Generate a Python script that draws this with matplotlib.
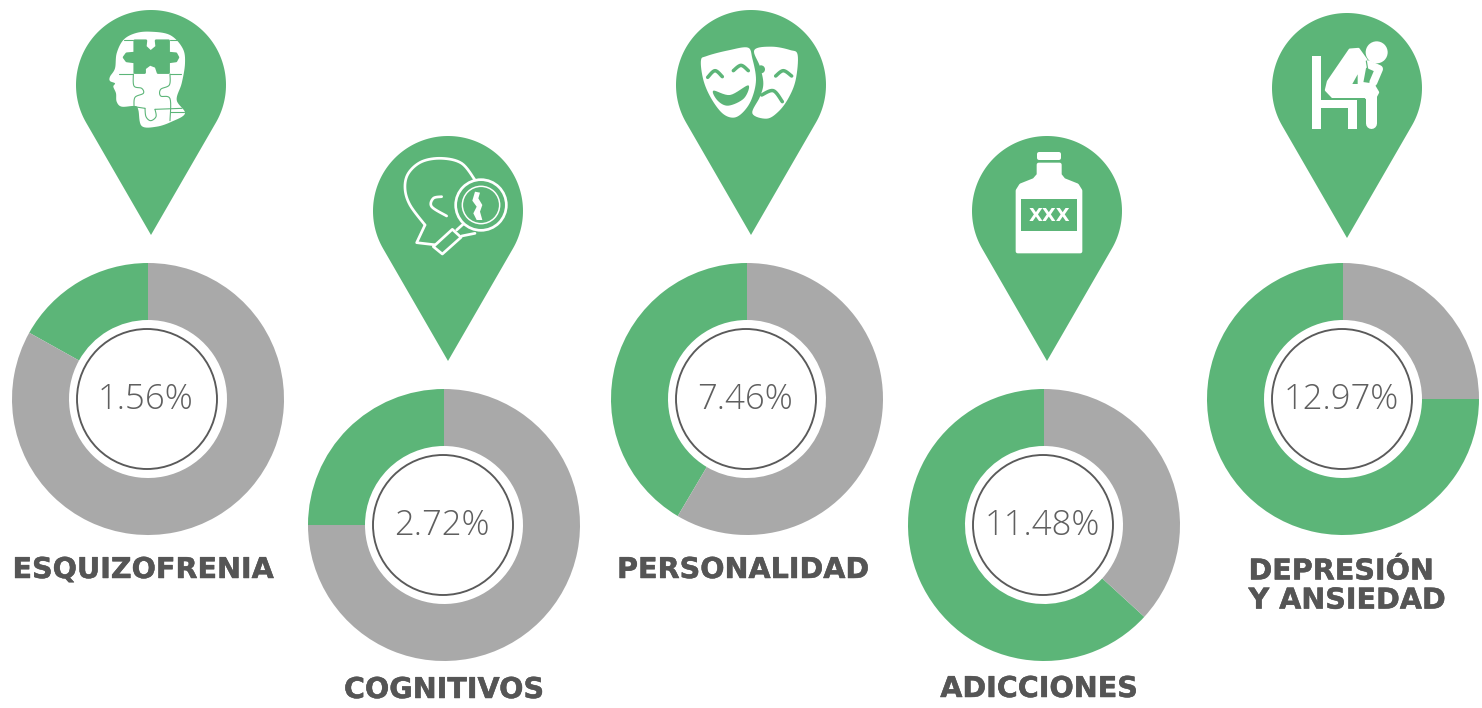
import numpy as np
import matplotlib
matplotlib.use("Agg")
import matplotlib.pyplot as plt
import matplotlib.patheffects as pe
from matplotlib.patches import Polygon, Circle

categories = ["ESQUIZOFRENIA", "COGNITIVOS", "PERSONALIDAD", "ADICCIONES", "DEPRESIÓN\nY ANSIEDAD"]
percent_labels = ["1.56%", "2.72%", "7.46%", "11.48%", "12.97%"]
green_share = [0.169, 0.25, 0.415, 0.632, 0.75]
grey_share = [0.831, 0.75, 0.585, 0.368, 0.25]

donut_x = [148, 444, 747, 1044, 1343]
donut_y = [399, 525, 399, 525, 399]
pin_x = [151, 448, 751, 1047, 1347]
pin_top = [10, 136, 10, 136, 13]
label_x = [143, 444, 743, 1039, 1347]
label_y = [570, 690, 570, 689, 586]

GREEN = "#5CB578"
GREY = "#A9A9A9"
TEXT = "#555555"
W, H = 1482, 708
PX = 0.72

fig = plt.figure(figsize=(W / 100, H / 100), dpi=100, facecolor="white")
ax = fig.add_axes([0, 0, 1, 1])


def Y(y):
    return H - np.asarray(y, dtype=float)


def smooth(pts, closed=True, n=8):
    p = np.asarray(pts, dtype=float)
    if closed:
        q = np.vstack([p[-1], p, p[0], p[1]])
    else:
        q = np.vstack([p[0], p, p[-1]])
    out = []
    for i in range(1, len(q) - 2):
        for t in np.linspace(0, 1, n, endpoint=False):
            a, b, c, d = q[i - 1], q[i], q[i + 1], q[i + 2]
            out.append(0.5 * (2 * b + (c - a) * t + (2 * a - 5 * b + 4 * c - d) * t ** 2
                              + (3 * b - a - 3 * c + d) * t ** 3))
    if not closed:
        out.append(q[-2])
    return np.array(out)


def tr(pts, o):
    p = np.asarray(pts, dtype=float)
    return np.column_stack([o[0] + p[:, 0] / 3, Y(o[1] + p[:, 1] / 3)])


def fill(pts, o, color="white", sm=True, z=5, ec="none", lw=0):
    p = smooth(pts) if sm else pts
    ax.add_patch(Polygon(tr(p, o), closed=True, fc=color, ec=ec, lw=lw * PX, zorder=z, joinstyle="round"))


def line(pts, o, color="white", lw=2, sm=True, z=6):
    p = smooth(pts, closed=False) if sm else np.asarray(pts, float)
    q = tr(p, o)
    ax.plot(q[:, 0], q[:, 1], color=color, lw=lw * PX, solid_capstyle="round", solid_joinstyle="round", zorder=z)


def circ(c, r, o, fc="none", ec="none", lw=0, z=6):
    q = tr([c], o)[0]
    ax.add_patch(Circle(q, r / 3, fc=fc, ec=ec, lw=lw * PX, zorder=z))


def pin(cx, top):
    r = 75
    cy = top + r
    a = np.radians(np.linspace(-30, 210, 120))
    xs = np.append(cx + r * np.cos(a), cx)
    ys = np.append(cy - r * np.sin(a), cy + 2 * r)
    ax.add_patch(Polygon(np.column_stack([xs, Y(ys)]), closed=True, fc=GREEN, ec="none", zorder=3))


# donuts
for i, cat in enumerate(categories):
    ax.pie([green_share[i], grey_share[i]], colors=[GREEN, GREY], startangle=90, counterclock=True,
           center=(donut_x[i], H - donut_y[i]), radius=136,
           wedgeprops=dict(width=136 - 79, linewidth=0))
    ax.add_patch(Circle((donut_x[i] - 1, H - donut_y[i]), 70, fc="white", ec="#5A5A5A", lw=1.9 * PX, zorder=4))
    ax.text(donut_x[i] - 2, H - donut_y[i] - 1, percent_labels[i], ha="center", va="center",
            fontsize=25, family="Open Sans", weight=300, color="#5F5F5F", zorder=5)
    pin(pin_x[i], pin_top[i])
    ax.text(label_x[i], H - label_y[i], cat, ha="center", va="center", multialignment="left",
            fontsize=20.6, family="DejaVu Sans", weight="bold", color=TEXT, linespacing=1.05, zorder=5,
            path_effects=[pe.withStroke(linewidth=0.35, foreground=TEXT)])

# --- icon 1: head with puzzle
o = (60, 0)
fill([(270, 95), (330, 105), (368, 145), (375, 190), (365, 250), (350, 300), (375, 340), (335, 365), (290, 380),
      (245, 378), (235, 330), (225, 318), (185, 320), (170, 305), (168, 280), (160, 260), (165, 250), (150, 243),
      (150, 230), (165, 205), (170, 160), (190, 120), (225, 100)], o)
fill(np.array([(224, 122), (258, 122), (256, 140), (272, 155), (290, 140), (288, 122), (326, 122), (326, 159),
               (348, 161), (354, 172), (348, 183), (326, 186), (326, 218), (294, 218), (288, 200), (270, 193),
               (254, 205), (254, 218), (224, 218), (224, 186), (200, 183), (192, 172), (200, 161), (224, 159)]),
     o, color=GREEN, sm=False, z=6, ec=GREEN, lw=2.5)
for seg in ([(192, 120), (220, 120)], [(330, 120), (352, 120)], [(178, 222), (220, 222)], [(330, 222), (362, 222)],
            [(222, 320), (255, 325)], [(285, 328), (366, 325)], [(330, 335), (372, 335)]):
    line(seg, o, color=GREEN, lw=1.1, sm=False)
line([(220, 222), (222, 258), (245, 265), (250, 280), (225, 292), (222, 320)], o, color=GREEN, lw=1.1)
line([(330, 222), (328, 255), (302, 268), (302, 288), (330, 296), (330, 362)], o, color=GREEN, lw=1.1)
line([(255, 325), (258, 350), (272, 362), (288, 350), (285, 328)], o, color=GREEN, lw=1.1)

# --- icon 2: head and magnifier
o = (365, 130)
line([(330, 150), (290, 100), (230, 85), (170, 95), (130, 130), (120, 175), (135, 225), (180, 285)], o, lw=2.7)
line([(180, 285), (155, 338), (215, 345)], o, lw=2.7, sm=False)
line([(230, 200), (205, 205), (200, 230), (245, 258)], o, lw=2.7)
circ((348, 225), 76, o, fc=GREEN, ec="white", lw=2.7)
circ((348, 225), 56, o, ec="white", lw=1.5)
fill([(90, 65), (105, 68), (100, 85), (112, 105), (105, 125), (112, 150), (95, 150), (85, 130), (95, 110), (82, 92)],
     (445, 170), sm=False, z=7)
fill([(232, 372), (205, 350), (262, 298), (288, 322)], o, color=GREEN, sm=False, z=6, ec="white", lw=2.7)
line([(275, 300), (295, 282)], o, lw=2.7, sm=False)
line([(290, 318), (330, 310)], o, lw=2.7, sm=False)

# --- icon 3: masks
o = (665, 0)
fill([(268, 150), (320, 140), (375, 150), (398, 165), (392, 240), (370, 295), (340, 335), (305, 356), (262, 340),
      (285, 290), (295, 250), (285, 200)], o)
circ((288, 208), 12, o, fc=GREEN, z=6)
line([(332, 228), (355, 212), (380, 228)], o, color=GREEN, lw=3.5)
line([(290, 285), (325, 272), (352, 305)], o, color=GREEN, lw=3.5)
fill([(105, 180), (125, 165), (190, 148), (250, 140), (265, 175), (276, 240), (262, 300), (235, 340), (205, 356),
      (170, 342), (135, 295), (112, 240)], o, z=7, ec=GREEN, lw=2)
line([(128, 232), (150, 212), (172, 230)], o, color=GREEN, lw=3.5, z=8)
line([(205, 212), (228, 196), (250, 212)], o, color=GREEN, lw=3.5, z=8)
fill([(145, 272), (195, 285), (250, 256), (237, 295), (190, 317), (158, 302)], o, color=GREEN, z=8)

# --- icon 4: bottle (inset outline stroked with a round join)
o = (965, 130)
fill([(222, 84), (222, 72), (283, 72), (283, 84)], o, sm=False, ec="white", lw=4)
fill([(221, 104), (284, 104), (284, 135), (296, 150), (336, 166), (346, 182), (346, 364), (158, 364), (158, 182),
      (168, 166), (208, 150), (221, 135)], o, sm=False, ec="white", lw=4)
fill([(168, 207), (336, 207), (336, 303), (168, 303)], o, color=GREEN, sm=False, z=6)
q = tr([(252, 258)], o)[0]
ax.text(q[0], q[1], "XXX", ha="center", va="center", fontsize=13, family="DejaVu Sans", weight="bold",
        color="white", zorder=7)

# --- icon 5: person on chair
o = (1265, 5)
for r in ([(142, 153), (168, 153), (168, 372), (142, 372)], [(168, 285), (275, 285), (275, 310), (168, 310)],
          [(248, 310), (275, 310), (275, 372), (248, 372)]):
    fill(r, o, sm=False)
circ((335, 142), 33, o, fc="white", z=6)
fill(np.array([(255, 135), (280, 133), (303, 165), (290, 235), (325, 240), (338, 262), (330, 277), (205, 277),
               (184, 255), (190, 230)]), o, sm=False, z=6, ec="white", lw=3)
line([(310, 178), (342, 192), (325, 232)], o, lw=8, sm=False)
line([(318, 262), (318, 355)], o, lw=11, sm=False)
fill([(262, 237), (278, 208), (278, 237)], o, color=GREEN, sm=False, z=7)
line([(304, 168), (310, 205)], o, color=GREEN, lw=1.2, sm=False, z=7)
line([(190, 280), (298, 280)], o, color=GREEN, lw=1, sm=False, z=7)
line([(298, 280), (298, 372)], o, color=GREEN, lw=1, sm=False, z=7)

ax.set_xlim(0, W)
ax.set_ylim(0, H)
ax.set_aspect("auto")
ax.axis("off")
fig.savefig("out.png", dpi=100, facecolor="white")
